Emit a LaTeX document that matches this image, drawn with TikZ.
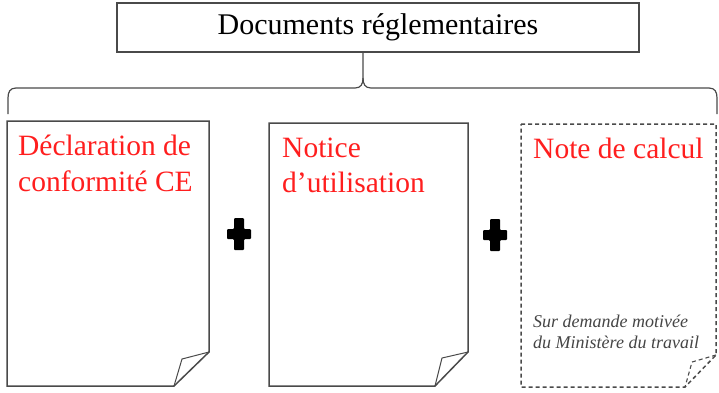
\documentclass[tikz,border=0pt]{standalone}
\usepackage{fontspec}
\setmainfont{Liberation Serif}
\definecolor{edge}{HTML}{4A4A4A}
\definecolor{redtxt}{HTML}{FF1E1E}
\definecolor{graytxt}{HTML}{454545}
\begin{document}
\begin{tikzpicture}[x=1pt,y=-1pt,
  topbox/.style={draw=edge, line width=1.8pt, minimum width=522pt, minimum height=49pt, inner sep=0pt, font=\fontsize{30}{36}\selectfont},
  bracepath/.style={draw=edge, line width=1.2pt},
  docline/.style={draw=edge, line width=1.5pt, line join=miter},
  docdash/.style={docline, dash pattern=on 4pt off 3pt},
  redlabel/.style={text=redtxt, inner sep=0pt, anchor=base west, font=\fontsize{29.5}{36}\selectfont},
  notelabel/.style={text=graytxt, inner sep=0pt, anchor=base west, font=\fontsize{18}{21}\selectfont\itshape},
  plusfill/.style={fill=black, rounded corners=1pt}
]
\useasboundingbox (0,0) rectangle (719,392);

% title box
\node[topbox] (top) at (378,27.5) {Documents réglementaires};

% brace
\coordinate (tip) at (363,78);
\draw[bracepath] (tip |- top.south) -- (tip)
  .. controls (363,84) and (361,88) .. (355,88) -- (16,88)
  .. controls (10,88) and (8,92) .. (8,98) -- (8,114);
\draw[bracepath] (tip)
  .. controls (363,84) and (365,88) .. (371,88) -- (709,88)
  .. controls (715,88) and (717,92) .. (717,98) -- (717,114);

% document 1
\draw[docline] (7,121) -- (209,121) -- (209,352) -- (174,386) -- (7,386) -- cycle;
\draw[docline, line width=1pt] (209,352) -- (182,359) -- (174,386);
\node[redlabel] (d1a) at (18,155) {Déclaration de};
\node[redlabel] (d1b) at (18,191) {conformité CE};

% document 2
\draw[docline] (269,123) -- (468,123) -- (468,352) -- (435,386) -- (269,386) -- cycle;
\draw[docline, line width=1pt] (468,352) -- (442,358) -- (435,386);
\node[redlabel] (d2a) at (282,157) {Notice};
\node[redlabel] (d2b) at (282,192) {d’utilisation};

% document 3 (dashed)
\draw[docdash] (521,124) -- (716,124) -- (716,355) -- (685,387) -- (521,387) -- cycle;
\draw[docdash, line width=1.1pt] (716,355) -- (692,362) -- (685,387);
\node[redlabel] (d3a) at (533,158) {Note de calcul};
\node[notelabel] (n1) at (533,327) {Sur demande motivée};
\node[notelabel] (n2) at (533,348) {du Ministère du travail};

% plus signs
\foreach \cx/\cy in {239/234, 495/235} {
  \fill[plusfill] (\cx-5,\cy-16) -- (\cx+5,\cy-16) -- (\cx+5,\cy-5)
    -- (\cx+12,\cy-5) -- (\cx+12,\cy+5) -- (\cx+5,\cy+5)
    -- (\cx+5,\cy+16) -- (\cx-5,\cy+16) -- (\cx-5,\cy+5)
    -- (\cx-12,\cy+5) -- (\cx-12,\cy-5) -- (\cx-5,\cy-5) -- cycle;
}
\end{tikzpicture}
\end{document}
